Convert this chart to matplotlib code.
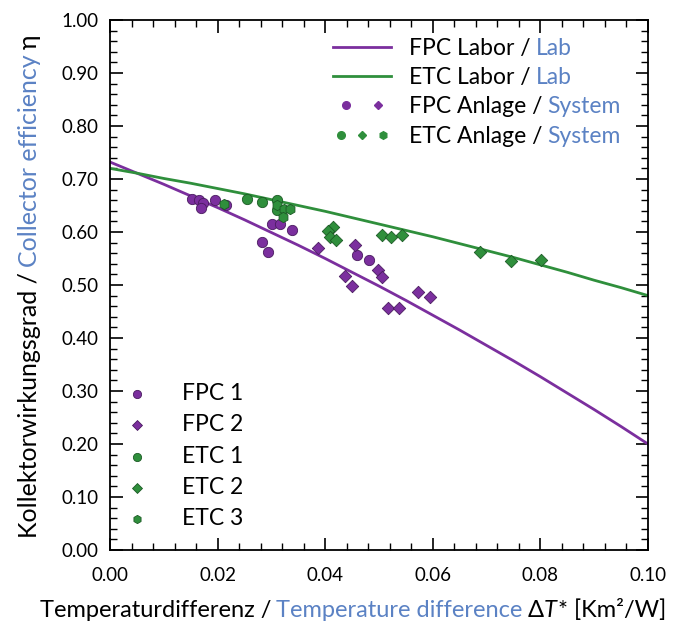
import numpy as np
import matplotlib.pyplot as plt
from matplotlib.legend_handler import HandlerTuple
from matplotlib.ticker import MultipleLocator
from matplotlib.transforms import IdentityTransform

plt.rcParams['font.family'] = ['Lato', 'DejaVu Sans']

purple = "#7b2f9e"
green = "#2f8f3c"
blue = "#5b82c4"
fs = 16.5

# Laborkennlinien
x_lab = [0.000, 0.005, 0.010, 0.015, 0.020, 0.025, 0.030, 0.035, 0.040, 0.045, 0.050,
         0.055, 0.060, 0.065, 0.070, 0.075, 0.080, 0.085, 0.090, 0.095, 0.100]
fpc_lab = [0.732, 0.711, 0.690, 0.668, 0.646, 0.623, 0.599, 0.575, 0.550, 0.524, 0.498,
           0.471, 0.443, 0.415, 0.386, 0.357, 0.327, 0.296, 0.265, 0.233, 0.200]
etc_lab = [0.720, 0.711, 0.701, 0.692, 0.682, 0.672, 0.661, 0.650, 0.639, 0.627, 0.615,
           0.603, 0.591, 0.578, 0.565, 0.552, 0.538, 0.524, 0.509, 0.495, 0.480]

# Messpunkte der Anlagen
fpc1_x = [0.0152, 0.0166, 0.0172, 0.0170, 0.0195, 0.0216, 0.0301, 0.0316, 0.0338, 0.0282, 0.0294, 0.0460, 0.0481]
fpc1_y = [0.662, 0.660, 0.655, 0.645, 0.660, 0.650, 0.616, 0.616, 0.604, 0.582, 0.563, 0.557, 0.547]

fpc2_x = [0.0387, 0.0437, 0.0449, 0.0455, 0.0499, 0.0505, 0.0517, 0.0538, 0.0573, 0.0594]
fpc2_y = [0.569, 0.517, 0.498, 0.575, 0.528, 0.516, 0.457, 0.457, 0.486, 0.477]

etc1_x = [0.0254, 0.0282, 0.0310, 0.0310]
etc1_y = [0.662, 0.657, 0.660, 0.642]

etc2_x = [0.0415, 0.0406, 0.0409, 0.0421, 0.0505, 0.0522, 0.0542, 0.0688, 0.0745, 0.0801]
etc2_y = [0.610, 0.601, 0.591, 0.585, 0.594, 0.590, 0.594, 0.562, 0.546, 0.547]

etc3_x = [0.0212, 0.0310, 0.0324, 0.0322, 0.0335]
etc3_y = [0.652, 0.651, 0.643, 0.629, 0.644]

fig = plt.figure(figsize=(6.74, 6.32), dpi=100)
ax = fig.add_axes([0.1632, 0.1297, 0.7982, 0.8387])

l_fpc, = ax.plot(x_lab, fpc_lab, color=purple, lw=2)
l_etc, = ax.plot(x_lab, etc_lab, color=green, lw=2)

kw = dict(s=55, linewidths=0.6, zorder=3)
s1 = ax.scatter(fpc1_x, fpc1_y, marker='o', color=purple, edgecolors="#4a1c60", **kw)
s2 = ax.scatter(fpc2_x, fpc2_y, marker='D', color=purple, edgecolors="#4a1c60", **dict(kw, s=40))
s3 = ax.scatter(etc1_x, etc1_y, marker='o', color=green, edgecolors="#1c5a25", **kw)
s4 = ax.scatter(etc2_x, etc2_y, marker='D', color=green, edgecolors="#1c5a25", **dict(kw, s=40))
s5 = ax.scatter(etc3_x, etc3_y, marker='h', color=green, edgecolors="#1c5a25", **kw)

ax.set_xlim(0, 0.10)
ax.set_ylim(0, 1.0)
ax.xaxis.set_major_locator(MultipleLocator(0.02))
ax.xaxis.set_minor_locator(MultipleLocator(0.004))
ax.yaxis.set_major_locator(MultipleLocator(0.1))
ax.yaxis.set_minor_locator(MultipleLocator(0.02))
ax.xaxis.set_major_formatter(lambda v, p: f"{v:.2f}")
ax.yaxis.set_major_formatter(lambda v, p: f"{v:.2f}")
ax.tick_params(which='both', direction='in', top=True, right=True, labelsize=13.5)
ax.tick_params(which='major', length=9, width=1.2)
ax.tick_params(which='minor', length=5, width=1.0)
ax.tick_params(axis='x', pad=12)
ax.tick_params(axis='y', pad=8)
for sp in ax.spines.values():
    sp.set_linewidth(1.3)

# Legende oben rechts: Labor und Anlage
pc = dict(ls='', ms=5.5)
h_fpc = (plt.Line2D([], [], marker='o', color=purple, **pc),
         plt.Line2D([], [], marker='D', color=purple, ms=4.5, ls=''))
h_etc = (plt.Line2D([], [], marker='o', color=green, **pc),
         plt.Line2D([], [], marker='D', color=green, ms=4.5, ls=''),
         plt.Line2D([], [], marker='h', color=green, **pc))
leg1 = ax.legend([l_fpc, l_etc, h_fpc, h_etc],
                 ["FPC Labor /", "ETC Labor /", "FPC Anlage /", "ETC Anlage /"],
                 handler_map={tuple: HandlerTuple(ndivide=None, pad=0.3)},
                 loc='upper left', bbox_to_anchor=(0.415, 0.966), frameon=False,
                 fontsize=fs, handlelength=2.5, handletextpad=0.8,
                 labelspacing=0.36, borderpad=0, borderaxespad=0)
ax.add_artist(leg1)

leg2 = ax.legend([s1, s2, s3, s4, s5], ["FPC 1", "FPC 2", "ETC 1", "ETC 2", "ETC 3"],
                 loc='lower left', frameon=False, fontsize=fs, scatterpoints=1,
                 handlelength=0.6, handletextpad=1.65, labelspacing=0.45,
                 borderaxespad=0.5, markerscale=0.8)

# x-Achsenbeschriftung, zusammengesetzt
xl = fig.text(0.059, 0.017, "Temperaturdifferenz /", fontsize=17, ha='left', va='bottom')
xb = fig.text(0, 0, "Temperature difference", color=blue, fontsize=17)
xd = fig.text(0, 0, "Δ", fontsize=17)
xt = fig.text(0, 0, "T", fontsize=17, style='italic')
xr = fig.text(0, 0, "* [Km²/W]", fontsize=17)

# y-Achsenbeschriftung, zusammengesetzt
yl = fig.text(0.026, 0.149, "Kollektorwirkungsgrad /", fontsize=18, rotation=90,
              ha='left', va='bottom')
yb = fig.text(0, 0, "Collector efficiency", color=blue, fontsize=18, rotation=90)
ye = fig.text(0, 0, "η", fontsize=18, rotation=90)

fig.canvas.draw()
r = fig.canvas.get_renderer()
px = IdentityTransform()


def after(prev, t, gap):
    # setzt den Text t rechts neben prev auf dieselbe Grundlinie
    bb = prev.get_window_extent(r)
    t.set_transform(px)
    t.set_position((bb.x1 + gap, bb.y0))
    t.set_ha('left')
    t.set_va('bottom')


def above(prev, t, gap):
    # setzt den gedrehten Text t oberhalb von prev
    bb = prev.get_window_extent(r)
    t.set_transform(px)
    t.set_position((bb.x0, bb.y1 + gap))
    t.set_ha('left')
    t.set_va('bottom')


after(xl, xb, 5)
after(xb, xd, 5)
after(xd, xt, 0)
after(xt, xr, 1)
above(yl, yb, 5)
above(yb, ye, 5)

# englische Ergänzungen in Blau hinter den deutschen Legendentexten
eng = ["Lab", "Lab", "System", "System"]
for t, e in zip(leg1.get_texts(), eng):
    bb = t.get_window_extent(r)
    fig.text(bb.x1 + 5, bb.y0, e, color=blue, fontsize=fs, transform=px,
             ha='left', va='bottom')

fig.savefig("out.png", dpi=100)
